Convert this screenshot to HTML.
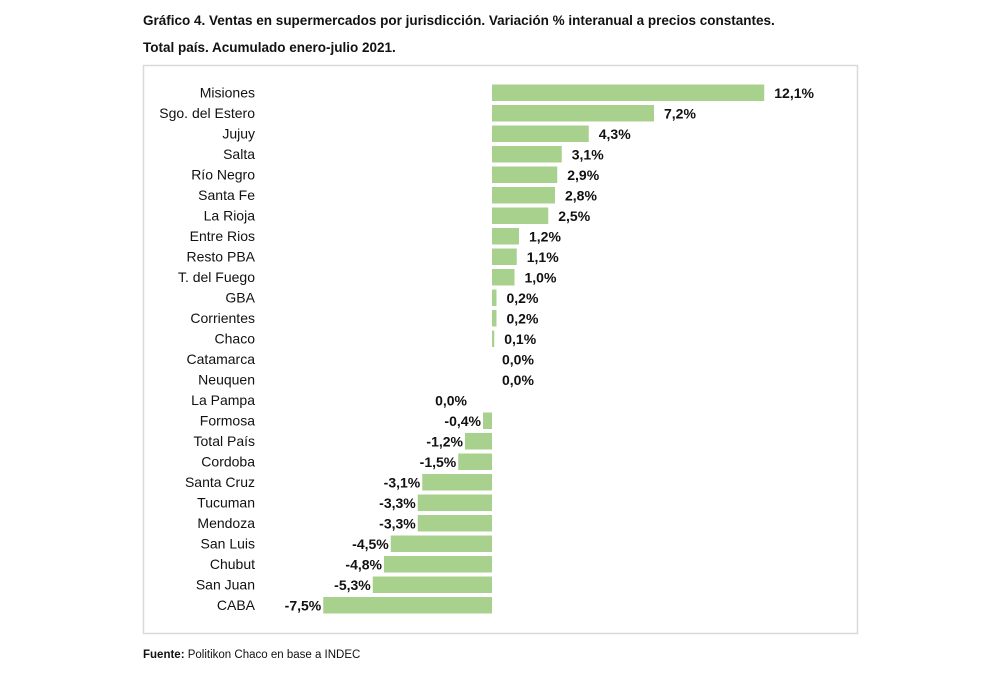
<!DOCTYPE html>
<html><head><meta charset="utf-8"><style>
body{margin:0;background:#fff;width:1000px;height:684px;overflow:hidden;font-family:"Liberation Sans",Arial,sans-serif}
</style></head><body>
<svg width="1000" height="684" xmlns="http://www.w3.org/2000/svg" font-family="Liberation Sans, Arial, sans-serif">
<text x="143" y="25" font-size="13.5" font-weight="bold" fill="#111">Gráfico 4. Ventas en supermercados por jurisdicción. Variación % interanual a precios constantes.</text>
<text x="143" y="52" font-size="13.5" font-weight="bold" fill="#111">Total país. Acumulado enero-julio 2021.</text>
<rect x="143.5" y="65.5" width="714" height="568" fill="#fff" stroke="#d9d9d9" stroke-width="1.5"/>
<g id="g"></g>
<text x="143" y="658" font-size="11.5" fill="#111"><tspan font-weight="bold">Fuente:</tspan> Politikon Chaco en base a INDEC</text>
</svg>
<script>
var d=[["Misiones",12.1],["Sgo. del Estero",7.2],["Jujuy",4.3],["Salta",3.1],["Río Negro",2.9],["Santa Fe",2.8],["La Rioja",2.5],["Entre Rios",1.2],["Resto PBA",1.1],["T. del Fuego",1.0],["GBA",0.2],["Corrientes",0.2],["Chaco",0.1],["Catamarca",0.0],["Neuquen",0.0],["La Pampa",-0.001],["Formosa",-0.4],["Total País",-1.2],["Cordoba",-1.5],["Santa Cruz",-3.1],["Tucuman",-3.3],["Mendoza",-3.3],["San Luis",-4.5],["Chubut",-4.8],["San Juan",-5.3],["CABA",-7.5]];
var s="",z=492,k=22.5;
var n=d.length,p=(605-92.5)/(n-1);
d.forEach(function(r,i){
var c=92.5+i*p,v=r[1],w=Math.abs(v)*k,x=v>=0?z:z-w;
s+='<text x="255" y="'+(c+5)+'" font-size="14" text-anchor="end" fill="#111">'+r[0]+'</text>';
if(w>0.1)s+='<rect x="'+x+'" y="'+(c-8)+'" width="'+w+'" height="16.5" fill="#a9d18e"/>';
var t=(Math.abs(v)<0.01?"0,0":v.toFixed(1).replace(".",","))+"%";
if(v>=0)s+='<text x="'+(z+w+10)+'" y="'+(c+5.5)+'" font-size="14" font-weight="bold" fill="#111">'+t+'</text>';
else s+='<text x="'+(Math.abs(v)<0.01?467:x-2)+'" y="'+(c+5.5)+'" font-size="14" font-weight="bold" text-anchor="end" fill="#111">'+t+'</text>';
});
document.getElementById("g").innerHTML=s;
</script>
</body></html>
